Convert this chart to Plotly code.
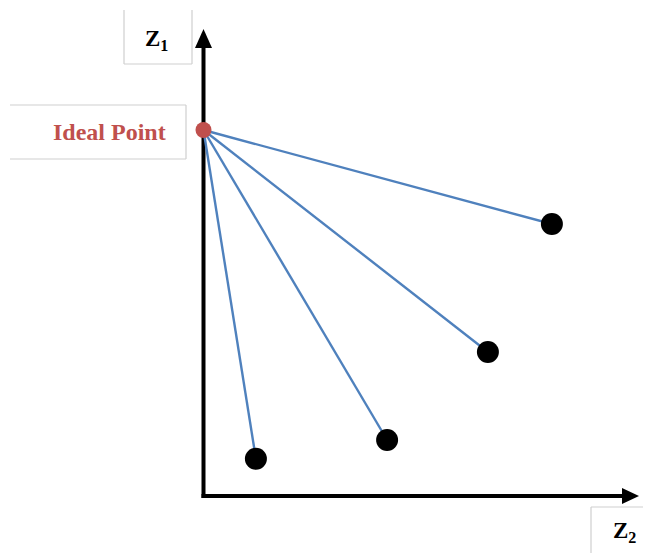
import plotly.graph_objects as go

# Data (z2 horizontal, z1 vertical)
ideal_z2 = [0.0]
ideal_z1 = [9.15]
sol_z2 = [8.71, 7.11, 4.59, 1.31]
sol_z1 = [6.8, 3.6, 1.4, 0.93]
axis_labels = ["Z<sub>1</sub>", "Z<sub>2</sub>"]
ideal_label = "Ideal Point"

W, H = 651, 553
OFF = 8  # page body margin
scale = 40.0
ox, oy = 203.5 - OFF, 496 - OFF  # pixel origin inside figure
xr = [-ox / scale, (W - ox) / scale]
yr = [-(H - oy) / scale, oy / scale]

fig = go.Figure()

def px(x):
    return (x - OFF) / W

def py(y):
    return 1 - (y - OFF) / H

# axes (drawn below traces)
axis_w = 4
fig.add_shape(type="line", xref="paper", yref="paper", layer="below",
              x0=px(203.5), y0=py(498), x1=px(203.5), y1=py(45),
              line=dict(color="black", width=axis_w))
fig.add_shape(type="line", xref="paper", yref="paper", layer="below",
              x0=px(201.5), y0=py(496), x1=px(625), y1=py(496),
              line=dict(color="black", width=axis_w))
fig.add_shape(type="path", xref="paper", yref="paper",
              path=f"M {px(195)} {py(48)} L {px(203.5)} {py(29)} L {px(212)} {py(48)} Z",
              fillcolor="black", line=dict(color="black", width=0))
fig.add_shape(type="path", xref="paper", yref="paper",
              path=f"M {px(622)} {py(488)} L {px(639)} {py(496)} L {px(622)} {py(504)} Z",
              fillcolor="black", line=dict(color="black", width=0))

# connecting lines
lx, ly = [], []
for a, b in zip(sol_z2, sol_z1):
    lx += [ideal_z2[0], a, None]
    ly += [ideal_z1[0], b, None]
fig.add_trace(go.Scatter(x=lx, y=ly, mode="lines",
                         line=dict(color="#4F81BD", width=2.4),
                         hoverinfo="skip", showlegend=False))
fig.add_trace(go.Scatter(x=sol_z2, y=sol_z1, mode="markers",
                         marker=dict(color="black", size=22),
                         showlegend=False))
fig.add_trace(go.Scatter(x=ideal_z2, y=ideal_z1, mode="markers",
                         marker=dict(color="#C0504D", size=16),
                         showlegend=False))

box_col = "#CFCFCF"
def seg(x0, y0, x1, y1):
    fig.add_shape(type="line", xref="paper", yref="paper",
                  x0=px(x0), y0=py(y0), x1=px(x1), y1=py(y1),
                  line=dict(color=box_col, width=1.2))

# Z1 box (left, right, bottom)
seg(124, 10, 124, 64); seg(192, 10, 192, 64); seg(124, 64, 192, 64)
# Ideal point box (top, right, bottom)
seg(10, 105, 186, 105); seg(186, 105, 186, 159); seg(10, 159, 186, 159)
# Z2 box (top, left)
seg(591, 507, 651, 507); seg(591, 507, 591, 553)

font = "Liberation Serif, Times New Roman, serif"
def label(x, y, text, size, color):
    fig.add_annotation(x=px(x), y=py(y), xref="paper", yref="paper",
                       xanchor="center", yanchor="middle",
                       text=text, showarrow=False,
                       font=dict(family=font, size=size, color=color))

label(156, 40, "<b>" + axis_labels[0] + "</b>", 23, "black")
label(624, 532, "<b>" + axis_labels[1] + "</b>", 23, "black")
label(109, 132, "<b>" + ideal_label + "</b>", 24, "#C0504D")

fig.update_layout(width=W, height=H, margin=dict(l=0, r=0, t=0, b=0),
                  plot_bgcolor="white", paper_bgcolor="white",
                  xaxis=dict(range=xr, visible=False, fixedrange=True),
                  yaxis=dict(range=yr, visible=False, fixedrange=True))

fig.write_html("out.html")
